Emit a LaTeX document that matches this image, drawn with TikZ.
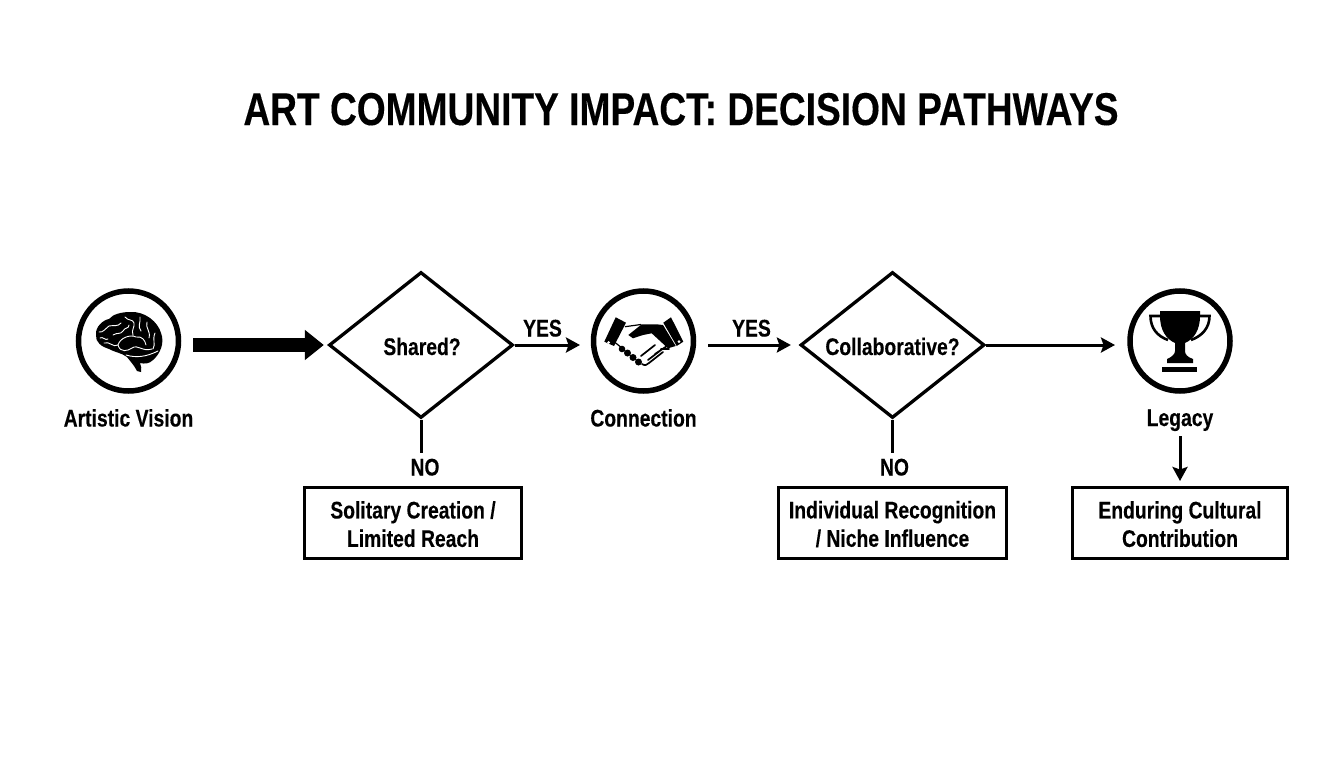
\documentclass[tikz,border=0pt]{standalone}
\usepackage{fontspec}
\setmainfont[FakeStretch=0.805,BoldFeatures={FakeBold=0.25}]{Liberation Sans}
\newfontfamily\titlefont[FakeStretch=0.807,BoldFeatures={FakeBold=0.25}]{Liberation Sans}
\usetikzlibrary{arrows.meta,shapes.geometric,calc}
\tikzset{
  x=1pt,y=-1pt,
  lbl/.style={font=\bfseries\fontsize{24}{28.4}\selectfont,inner sep=0pt,align=center,text=black,anchor=base},
  ring/.style={circle,draw=black,line width=5.5pt,minimum size=100pt,inner sep=0pt,fill=white},
  deci/.style={diamond,draw=black,line width=3.3pt,minimum width=184pt,minimum height=146pt,aspect=1.26,inner sep=0pt},
  res/.style={draw=black,line width=3.3pt,inner sep=0pt,align=center,font=\bfseries\fontsize{24}{28.4}\selectfont,minimum height=71pt},
  conn/.style={line width=3pt,draw=black},
  arr/.style={conn,-{Stealth[length=14pt,width=15pt,inset=2.5pt]}}
}
\begin{document}
\begin{tikzpicture}
\useasboundingbox (0,0) rectangle (1344,768);
\fill[white] (0,0) rectangle (1344,768);
\node[inner sep=0pt,anchor=base,font=\titlefont\bfseries\fontsize{46}{52}\selectfont] (title) at (681,125) {ART COMMUNITY IMPACT: DECISION PATHWAYS};

\node[ring] (vision) at (128.5,341) {};
\node[ring] (conn) at (643.5,341) {};
\node[ring] (legacy) at (1180,341) {};
\node[deci] (shared) at (421,345) {};
\node[deci] (collab) at (892.5,345) {};
\node[lbl] (tshared) at (422,355) {Shared?};
\node[lbl] (tcollab) at (892.5,355) {Collaborative?};
\node[lbl] (tvision) at (128.5,426.5) {Artistic Vision};
\node[lbl] (tconn) at (643.5,426.5) {Connection};
\node[lbl] (tlegacy) at (1180,426) {Legacy};
\node[lbl] (yes1) at (542.5,336.5) {YES};
\node[lbl] (yes2) at (751.5,336.5) {YES};
\node[lbl] (no1) at (425,475.5) {NO};
\node[lbl] (no2) at (894.5,475.5) {NO};
\node[res,minimum width=217pt] (solo) at (413,523) {\rule{0pt}{19.6pt}Solitary Creation /\\Limited Reach};
\node[res,minimum width=228pt] (indiv) at (892.5,523) {\rule{0pt}{19.6pt}Individual Recognition\\/ Niche Influence};
\node[res,minimum width=215pt] (endur) at (1180,523) {\rule{0pt}{19.6pt}Enduring Cultural\\Contribution};

% connectors
\coordinate (a0) at (193,345);
\draw[line width=14pt,shorten >=3.5pt,-{Triangle[length=19pt,width=29pt]}] (a0) -- (shared.west);
\coordinate (e1) at (580,345);
\draw[arr] (shared.east) -- (e1);
\coordinate (b0) at (708,345);
\draw[arr,shorten >=8pt] (b0) -- (collab.west);
\coordinate (e2) at (1115,345);
\draw[arr] (collab.east) -- (e2);
\coordinate (c0) at (421,453);
\draw[conn] (shared.south) -- (c0);
\coordinate (c1) at (892.5,453);
\draw[conn] (collab.south) -- (c1);
\coordinate (d0) at (1180,436);
\coordinate (d1) at (1180,481);
\draw[arr] (d0) -- (d1);

% brain
\begin{scope}
\fill (96,335) .. controls (95,327) and (103,320) .. (109,319) .. controls (113,314) and (122,312) .. (130,312) .. controls (145,311) and (158,322) .. (161,333) .. controls (165,343) and (160,354) .. (153,360) .. controls (149,364) and (145,364) .. (140,363) .. controls (141,366) and (142,369) .. (141,372) -- (137,371) .. controls (134,365) and (130,361) .. (127,357) .. controls (122,353) and (114,352) .. (109,349) .. controls (102,347) and (95,342) .. (96,335) -- cycle;
\draw[white,line width=0.9pt,line cap=round,line join=round]
 (99,332) .. controls (103,333) and (106,328) .. (109,326) .. controls (113,325) and (118,327) .. (121,323)
 (100,338) .. controls (103,336) and (105,341) .. (108,339)
 (113,335) .. controls (118,332) and (120,335) .. (123,331) .. controls (125,327) and (129,329) .. (129,325)
 (125,317) .. controls (128,321) and (133,319) .. (134,323) .. controls (135,327) and (131,330) .. (133,335)
 (140,317) .. controls (141,323) and (137,326) .. (141,331)
 (147,322) .. controls (145,328) and (151,331) .. (149,338)
 (155,333) .. controls (152,340) and (156,344) .. (153,349)
 (104,343) .. controls (110,341) and (113,348) .. (118,345) .. controls (120,338) and (130,334) .. (136,337) .. controls (142,336) and (145,340) .. (146,345)
 (118,345) .. controls (120,353) and (128,351) .. (132,348) .. controls (138,344) and (142,352) .. (152,349)
 (126,355) .. controls (136,358) and (146,357) .. (158,351);
\end{scope}

% handshake
\begin{scope}
\fill (604.3,341.7) -- (615.7,317.3) -- (626,322.7) -- (614,346) -- cycle;
\fill (663.3,322.7) -- (671,317.3) -- (683.3,341.7) -- (676.7,346) -- cycle;
\fill[white] (608.5,342.5) circle (1.5pt) (679,341.7) circle (1.5pt);
\draw[line width=1.2pt] (625,326.7) -- (641,324.5);
\draw[line width=1.2pt] (614,341.7) -- (622,348);
% dark hand
\fill (628.3,335) -- (641.7,324.3) -- (656.7,324.3) -- (663,325) -- (675.7,346) -- (668,348.3) -- (651.7,333.3) -- (643,335) -- (633,338.3) -- cycle;
% fingers
\fill (622,349) circle (3.3pt) (627.5,353) circle (3.5pt) (633,357.5) circle (3.5pt) (638.5,362) circle (3.5pt);
% fingers of the light hand
\draw[line width=1.7pt,line cap=round,line join=round] (642,364) .. controls (645,366) and (647,365) .. (649,363) -- (663,352) (641,356) -- (655,345) (648,360) -- (661,350) (655,354) -- (667,346) (661,349) -- (669,349);
\end{scope}

% trophy
\begin{scope}
\fill (1160,311) -- (1200,311) -- (1200,316) .. controls (1200,330) and (1194,339) .. (1185,343) -- (1185,351) .. controls (1185,354) and (1187,357) .. (1193,359) -- (1193,363) -- (1167,363) -- (1167,359) .. controls (1172,357) and (1175,354) .. (1175,351) -- (1175,343) .. controls (1166,339) and (1160,330) .. (1160,316) -- cycle;
\draw[line width=2.6pt] (1161,316) -- (1150.5,316) .. controls (1150.5,328) and (1157,336) .. (1168,340);
\draw[line width=2.6pt] (1199,316) -- (1209.5,316) .. controls (1209.5,328) and (1202,336) .. (1191,340);
\fill (1162,367) rectangle (1197,372);
\end{scope}
\end{tikzpicture}
\end{document}
